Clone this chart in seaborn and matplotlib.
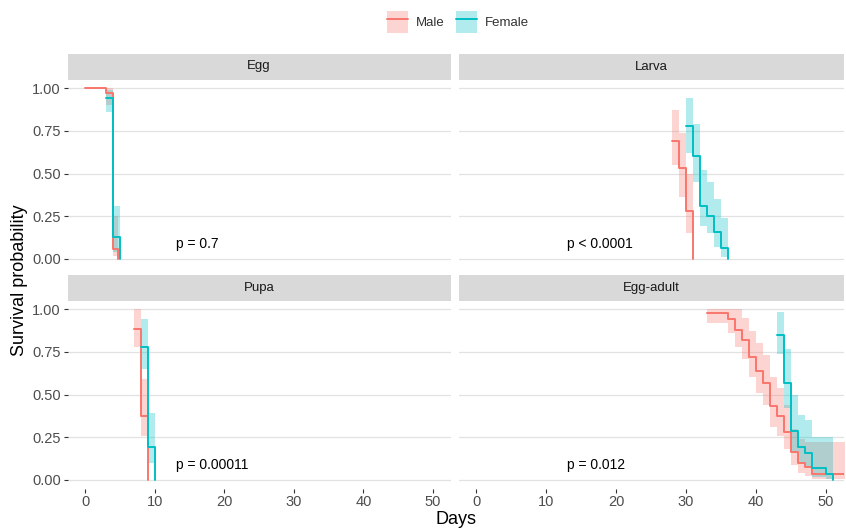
import matplotlib
matplotlib.use("Agg")
import numpy as np
import pandas as pd
import matplotlib.pyplot as plt
import seaborn as sns
from matplotlib.patches import Patch
from matplotlib.lines import Line2D
from matplotlib.legend_handler import HandlerTuple

# ---------------- data ----------------
stages = ["Egg", "Larva", "Pupa", "Egg-adult"]
sexes = ["Male", "Female"]
p_labels = ["p = 0.7", "p < 0.0001", "p = 0.00011", "p = 0.012"]

egg_male_time = [0, 3, 4, 4.7]
egg_male_surv = [1.0, 0.97, 0.06, 0.0]
egg_male_lower = [1.0, 0.90, 0.02, 0.0]
egg_male_upper = [1.0, 1.0, 0.25, 0.0]

egg_female_time = [3, 4, 5]
egg_female_surv = [0.94, 0.13, 0.0]
egg_female_lower = [0.86, 0.04, 0.0]
egg_female_upper = [0.99, 0.31, 0.0]

larva_male_time = [28, 29, 30, 31]
larva_male_surv = [0.69, 0.53, 0.28, 0.0]
larva_male_lower = [0.55, 0.36, 0.15, 0.0]
larva_male_upper = [0.87, 0.735, 0.50, 0.0]

larva_female_time = [30, 31, 32, 33, 34, 35, 36]
larva_female_surv = [0.78, 0.60, 0.31, 0.25, 0.155, 0.065, 0.0]
larva_female_lower = [0.62, 0.45, 0.19, 0.15, 0.07, 0.01, 0.0]
larva_female_upper = [0.94, 0.79, 0.52, 0.45, 0.35, 0.24, 0.0]

pupa_male_time = [7, 8, 9]
pupa_male_surv = [0.886, 0.377, 0.0]
pupa_male_lower = [0.78, 0.255, 0.0]
pupa_male_upper = [1.0, 0.59, 0.0]

pupa_female_time = [8, 9, 10]
pupa_female_surv = [0.78, 0.19, 0.0]
pupa_female_lower = [0.65, 0.10, 0.0]
pupa_female_upper = [0.94, 0.39, 0.0]

eggadult_male_time = [33, 36, 37, 38, 39, 40, 41, 42, 43, 44, 45, 46, 47, 48, 53]
eggadult_male_surv = [0.975, 0.94, 0.88, 0.82, 0.72, 0.635, 0.565, 0.43, 0.375,
                      0.28, 0.165, 0.097, 0.074, 0.035, 0.035]
eggadult_male_lower = [0.92, 0.86, 0.78, 0.71, 0.60, 0.51, 0.44, 0.31, 0.26,
                       0.18, 0.09, 0.04, 0.025, 0.005, 0.005]
eggadult_male_upper = [1.0, 1.0, 1.0, 0.95, 0.87, 0.80, 0.73, 0.60, 0.54,
                       0.44, 0.30, 0.24, 0.22, 0.22, 0.22]

eggadult_female_time = [43, 44, 45, 46, 47, 48, 50, 51]
eggadult_female_surv = [0.85, 0.566, 0.287, 0.195, 0.156, 0.068, 0.033, 0.0]
eggadult_female_lower = [0.735, 0.42, 0.17, 0.10, 0.07, 0.02, 0.005, 0.0]
eggadult_female_upper = [0.985, 0.765, 0.50, 0.38, 0.35, 0.25, 0.25, 0.0]

curves = {
    ("Egg", "Male"): (egg_male_time, egg_male_surv, egg_male_lower, egg_male_upper),
    ("Egg", "Female"): (egg_female_time, egg_female_surv, egg_female_lower, egg_female_upper),
    ("Larva", "Male"): (larva_male_time, larva_male_surv, larva_male_lower, larva_male_upper),
    ("Larva", "Female"): (larva_female_time, larva_female_surv, larva_female_lower, larva_female_upper),
    ("Pupa", "Male"): (pupa_male_time, pupa_male_surv, pupa_male_lower, pupa_male_upper),
    ("Pupa", "Female"): (pupa_female_time, pupa_female_surv, pupa_female_lower, pupa_female_upper),
    ("Egg-adult", "Male"): (eggadult_male_time, eggadult_male_surv, eggadult_male_lower, eggadult_male_upper),
    ("Egg-adult", "Female"): (eggadult_female_time, eggadult_female_surv, eggadult_female_lower, eggadult_female_upper),
}

rows = []
for (stage, sex), (t, s, lo, up) in curves.items():
    for a, b, c, d in zip(t, s, lo, up):
        rows.append(dict(stage=stage, sex=sex, time=a, surv=b, lower=c, upper=d))
df = pd.DataFrame(rows)

palette = {"Male": "#F8766D", "Female": "#00BFC4"}

# ---------------- figure ----------------
sns.set_theme(style="white")
plt.rcParams["font.family"] = ["Liberation Sans", "DejaVu Sans"]

W, H = 846, 529
fig = plt.figure(figsize=(W / 100, H / 100), dpi=100)

def fx(px):
    return px / W

def fy(px):
    return 1 - px / H

col_x = [(67.6, 450.5), (458.5, 843.5)]
row_y = [(79.5, 267.5), (300.5, 488.5)]
strip_h = 26

for i, stage in enumerate(stages):
    r, c = divmod(i, 2)
    x0, x1 = col_x[c]
    y0, y1 = row_y[r]
    ax = fig.add_axes([fx(x0), fy(y1), fx(x1 - x0), (y1 - y0) / H])
    sub = df[df.stage == stage]
    for sex in sexes:
        g = sub[sub.sex == sex]
        ax.fill_between(g.time, g.lower, g.upper, step="post",
                        color=palette[sex], alpha=0.3, lw=0)
    sns.lineplot(data=sub, x="time", y="surv", hue="sex", hue_order=sexes,
                 palette=palette, drawstyle="steps-post", estimator=None,
                 lw=1.4, legend=False, ax=ax)
    ax.set_xlim(-2.5, 52.5)
    ax.set_ylim(-0.05, 1.05)
    ax.set_xticks([0, 10, 20, 30, 40, 50])
    ax.set_yticks([0, 0.25, 0.5, 0.75, 1.0])
    ax.set_yticklabels(["0.00", "0.25", "0.50", "0.75", "1.00"])
    ax.yaxis.grid(True, color="#E2E2E2", lw=0.9)
    ax.xaxis.grid(False)
    ax.set_axisbelow(True)
    for sp in ax.spines.values():
        sp.set_visible(False)
    ax.set_xlabel("")
    ax.set_ylabel("")
    ax.tick_params(axis="both", length=3, width=0.8, color="#333333",
                   labelsize=10.5, labelcolor="#4D4D4D", pad=2)
    if c == 1:
        ax.tick_params(axis="y", left=False, labelleft=False)
    else:
        ax.tick_params(axis="y", left=True, labelleft=True)
    if r == 0:
        ax.tick_params(axis="x", bottom=False, labelbottom=False)
    else:
        ax.tick_params(axis="x", bottom=True, labelbottom=True)
    ax.text(13, 0.09, p_labels[i], fontsize=10, color="black",
            ha="left", va="center")

    sax = fig.add_axes([fx(x0), fy(y0), fx(x1 - x0), strip_h / H])
    sax.set_facecolor("#D9D9D9")
    sax.set_xticks([])
    sax.set_yticks([])
    for sp in sax.spines.values():
        sp.set_visible(False)
    sax.text(0.5, 0.5, stage, ha="center", va="center", fontsize=9.5,
             color="#1A1A1A", transform=sax.transAxes)

fig.text(fx(20), fy(280), "Survival probability", rotation=90,
         ha="center", va="center", fontsize=13, color="black")
fig.text(fx(456), fy(520), "Days", ha="center", va="center",
         fontsize=13, color="black")

handles = [(Patch(facecolor=palette[s], alpha=0.3, edgecolor="none"),
            Line2D([], [], color=palette[s], lw=1.4)) for s in sexes]
fig.legend(handles, sexes, handler_map={tuple: HandlerTuple(ndivide=1)},
           loc="center", bbox_to_anchor=(fx(458), fy(22)), ncol=2,
           frameon=False, fontsize=9.5, handlelength=1.6, handleheight=2.2,
           handletextpad=0.6, columnspacing=0.8, labelcolor="#333333")

fig.savefig("out.png", dpi=100)
